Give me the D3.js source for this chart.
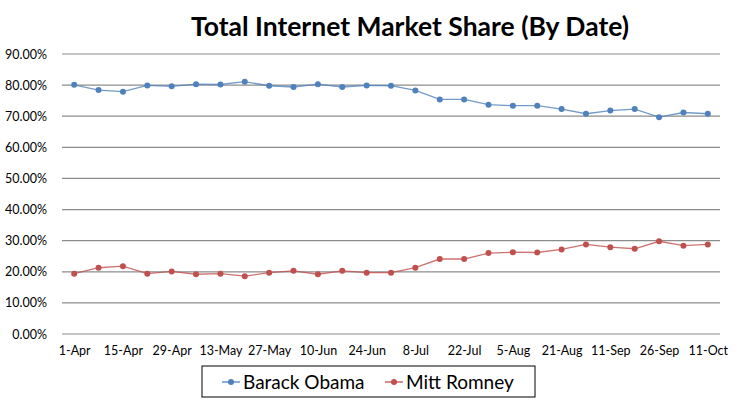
<!DOCTYPE html>
<html>
<head>
<meta charset="utf-8">
<script src="https://cdn.jsdelivr.net/npm/d3@7"></script>
<style>
body { margin: 0; background: #fff; }
text { font-family: Lato, "Open Sans", sans-serif; fill: #000; }
</style>
</head>
<body>
<div id="chart"></div>
<script>
// weekly dates (only every other one is labelled on the axis)
var dates = ["1-Apr","8-Apr","15-Apr","22-Apr","29-Apr","6-May","13-May","20-May","27-May",
  "3-Jun","10-Jun","17-Jun","24-Jun","1-Jul","8-Jul","15-Jul","22-Jul","29-Jul","5-Aug",
  "12-Aug","21-Aug","1-Sep","11-Sep","18-Sep","26-Sep","4-Oct","11-Oct"];
var obama = [80.1,78.4,77.9,79.9,79.6,80.3,80.2,81.1,79.8,79.4,80.3,79.4,79.9,79.8,78.3,
  75.4,75.4,73.7,73.4,73.4,72.3,70.8,71.8,72.3,69.7,71.2,70.8];
var romney = [19.4,21.3,21.8,19.4,20.1,19.2,19.4,18.6,19.7,20.3,19.2,20.3,19.7,19.7,21.3,
  24.1,24.1,26.0,26.3,26.2,27.2,28.8,27.9,27.4,29.8,28.4,28.8];
var yTicks = [0,10,20,30,40,50,60,70,80,90];
var seriesNames = ["Barack Obama","Mitt Romney"];
var seriesColors = ["#4F81BD","#C0504D"];

var W = 737, H = 404;
var margin = {top: 54, right: 17, bottom: 70, left: 62};
var innerW = W - margin.left - margin.right;
var innerH = H - margin.top - margin.bottom;

var svg = d3.select("#chart").append("svg")
  .attr("width", W).attr("height", H);

svg.append("text")
  .attr("x", 410).attr("y", 36)
  .attr("text-anchor", "middle")
  .style("font-size", "26.5px").style("font-weight", "bold")
  .text("Total Internet Market Share (By Date)");

var g = svg.append("g")
  .attr("transform", "translate(" + margin.left + "," + margin.top + ")");

var x = d3.scalePoint().domain(dates).range([0, innerW]).padding(0.5);
var y = d3.scaleLinear().domain([0, 90]).range([innerH, 0]);

// grid lines
g.selectAll(".grid").data(yTicks).enter()
  .append("line")
  .attr("x1", 0).attr("x2", innerW)
  .attr("y1", function(d){ return y(d); })
  .attr("y2", function(d){ return y(d); })
  .attr("stroke", "#8c8c8c").attr("stroke-width", 1.2);

var yAxis = g.append("g")
  .call(d3.axisLeft(y).tickValues(yTicks).tickSize(0).tickPadding(15)
    .tickFormat(function(d){ return d.toFixed(2) + "%"; }));
yAxis.select(".domain").remove();
yAxis.selectAll("text").style("font-size", "12.5px").style("font-family", "Lato, sans-serif");

var xAxis = g.append("g")
  .attr("transform", "translate(0," + innerH + ")")
  .call(d3.axisBottom(x).tickSize(0).tickPadding(12)
    .tickValues(dates.filter(function(d,i){ return i % 2 == 0; })));
xAxis.select(".domain").remove();
xAxis.selectAll("text").style("font-size", "12.5px").style("font-family", "Lato, sans-serif");

var line = d3.line()
  .x(function(d,i){ return x(dates[i]); })
  .y(function(d){ return y(d); });

[obama, romney].forEach(function(vals, k) {
  g.append("path")
    .datum(vals)
    .attr("d", line)
    .attr("fill", "none")
    .attr("stroke", seriesColors[k])
    .attr("stroke-opacity", 0.8)
    .attr("stroke-width", 1.3);
  g.selectAll(".dot" + k).data(vals).enter()
    .append("circle")
    .attr("cx", function(d,i){ return x(dates[i]); })
    .attr("cy", function(d){ return y(d); })
    .attr("r", 3)
    .attr("fill", seriesColors[k]);
});

// legend
var legend = svg.append("g").attr("transform", "translate(202,366)");
legend.append("rect")
  .attr("width", 333).attr("height", 31)
  .attr("fill", "#fff").attr("stroke", "#000").attr("stroke-width", 1);
var legendX = [20, 183];
seriesNames.forEach(function(name, k) {
  var item = legend.append("g").attr("transform", "translate(" + legendX[k] + ",16)");
  item.append("line").attr("x1", 0).attr("x2", 18).attr("y1", 0).attr("y2", 0)
    .attr("stroke", seriesColors[k]).attr("stroke-width", 1.3);
  item.append("circle").attr("cx", 9).attr("cy", 0).attr("r", 3).attr("fill", seriesColors[k]);
  item.append("text").attr("x", 21).attr("y", 7)
    .style("font-size", "19px").text(name);
});
</script>
</body>
</html>
